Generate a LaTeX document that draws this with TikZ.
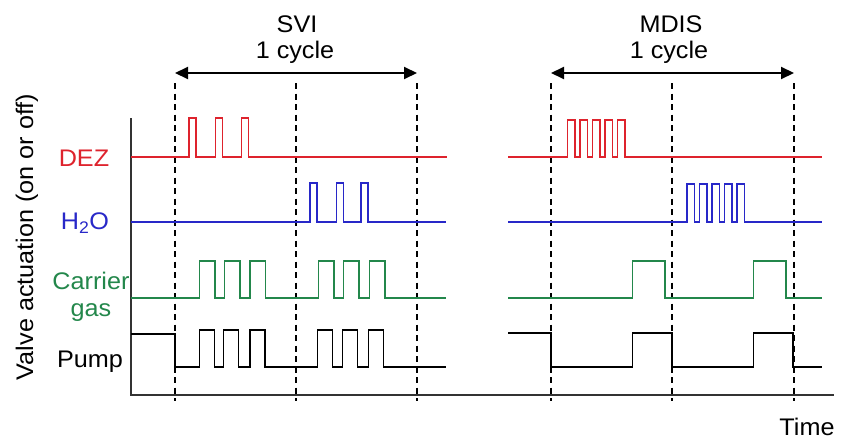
\documentclass[tikz,border=0pt]{standalone}
\usepackage{fontspec}
\setmainfont{Liberation Sans}[FakeStretch=1.05]
\usetikzlibrary{arrows.meta}
\definecolor{dezred}{RGB}{222,35,45}
\definecolor{waterblue}{RGB}{40,40,200}
\definecolor{gasgreen}{RGB}{35,135,75}
\begin{document}
\begin{tikzpicture}[x=1pt, y=-1pt,
    trace/.style={line width=1.4pt, line join=miter},
    guide/.style={line width=1.3pt, dash pattern=on 6pt off 4.5pt},
    axis/.style={line width=1.3pt, black!80},
    cyclearrow/.style={line width=2pt, {Triangle[length=13pt,width=12pt]}-{Triangle[length=13pt,width=12pt]}},
    lbl/.style={font=\fontsize{24}{27}\selectfont, inner sep=0pt}]
    \useasboundingbox (0,0) rectangle (842,439);
    % axes
    \draw[axis] (131,118) -- (131,395) -- (834,395);
    % cycle boundaries
    \foreach \x in {175,296,417,551,672,794}
        \draw[guide] (\x,83) -- (\x,401);
    % cycle arrows
    \coordinate (svil) at (175,73);
    \coordinate (svir) at (417,73);
    \coordinate (mdisl) at (551,73);
    \coordinate (mdisr) at (794,73);
    \draw[cyclearrow] (svil) -- (svir);
    \draw[cyclearrow] (mdisl) -- (mdisr);
    % titles
    \node[lbl] (svi) at (297,24) {SVI};
    \node[lbl] (svicycle) at (295,52) {1 cycle};
    \node[lbl] (mdis) at (671,24) {MDIS};
    \node[lbl] (mdiscycle) at (669,52) {1 cycle};
    % channel labels
    \node[lbl, text=dezred] (dez) at (84,158) {DEZ};
    \node[lbl, text=waterblue] (water) at (85,223) {H\textsubscript{2}O};
    \node[lbl, text=gasgreen, align=center] (gas) at (91,297) {Carrier\\gas};
    \node[lbl] (pump) at (90,362) {Pump};
    \node[lbl, rotate=90] (valve) at (27,237) {Valve actuation (on or off)};
    \node[lbl] (time) at (807,427) {Time};
    % SVI traces
    \draw[trace, dezred] (131,157) foreach \x in {189,215.5,241.5}
        {-- (\x,157) -- (\x,118) -- (\x+7,118) -- (\x+7,157)} -- (447,157);
    \draw[trace, waterblue] (131,222) foreach \x in {310,336.5,361}
        {-- (\x,222) -- (\x,183) -- (\x+7,183) -- (\x+7,222)} -- (446,222);
    \draw[trace, gasgreen] (131,298) foreach \x in {199.5,224.5,250,318.5,343.5,369.5}
        {-- (\x,298) -- (\x,261) -- (\x+15.5,261) -- (\x+15.5,298)} -- (446,298);
    \draw[trace] (131,334) -- (175,334) -- (175,367) foreach \x in {199.5,223.5,250,317.5,342.5,368.5}
        {-- (\x,367) -- (\x,330) -- (\x+15,330) -- (\x+15,367)} -- (446,367);
    % MDIS traces
    \draw[trace, dezred] (508,157) foreach \k in {0,...,4}
        {-- (567.5+12.5*\k,157) -- (567.5+12.5*\k,120) -- (575+12.5*\k,120) -- (575+12.5*\k,157)} -- (822,157);
    \draw[trace, waterblue] (508,222) foreach \k in {0,...,4}
        {-- (687+12.5*\k,222) -- (687+12.5*\k,184) -- (694.5+12.5*\k,184) -- (694.5+12.5*\k,222)} -- (822,222);
    \draw[trace, gasgreen] (508,298) -- (632.5,298) -- (632.5,261) -- (665,261) -- (665,298)
        -- (753.5,298) -- (753.5,261) -- (786,261) -- (786,298) -- (822,298);
    \draw[trace] (508,333) -- (551,333) -- (551,367) -- (632.5,367) -- (632.5,333) -- (672,333) -- (672,367)
        -- (753.5,367) -- (753.5,333) -- (793,333) -- (793,367) -- (822,367);
\end{tikzpicture}
\end{document}
